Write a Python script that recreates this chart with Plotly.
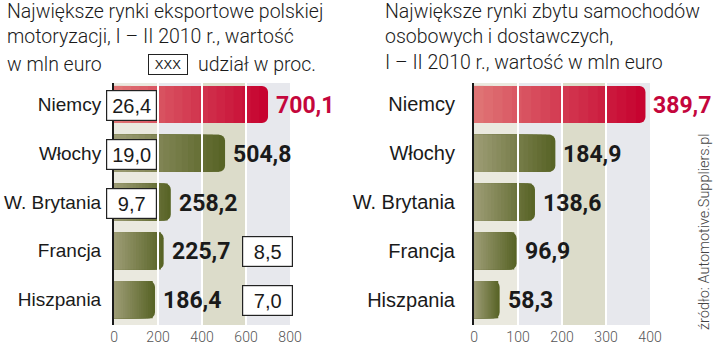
import plotly.graph_objects as go

# Data
categories = ["Niemcy", "Włochy", "W. Brytania", "Francja", "Hiszpania"]
export_values = [700.1, 504.8, 258.2, 225.7, 186.4]   # mln euro
export_share = [26.4, 19.0, 9.7, 8.5, 7.0]            # % share
sales_values = [389.7, 184.9, 138.6, 96.9, 58.3]      # mln euro
left_ticks = [0, 200, 400, 600, 800]
right_ticks = [0, 100, 200, 300, 400]

W, H = 720, 345
TXT = "#1a1a1a"
RED_TXT = "#c4063c"
LIGHT_FONT = dict(family="Roboto, Liberation Sans, sans-serif", weight=300)
BOLD_FAMILY = "Roboto, Liberation Sans, sans-serif"
LABEL_FAMILY = "Liberation Sans, sans-serif"

RED = ((224, 118, 118), (198, 0, 46))
GREEN = ((158, 157, 118), (86, 98, 36))
N_STEPS = 18


def fmt(v):
    return f"{v:.1f}".replace(".", ",")


def mix(c0, c1, t):
    return "rgb(%d,%d,%d)" % tuple(round(a + (b - a) * t) for a, b in zip(c0, c1))


fig = go.Figure()


def add_gradient_bars(values, xa, ya):
    # Overlaid bars of decreasing length give a left-to-right shading
    for k in range(N_STEPS):
        frac = (N_STEPS - k) / N_STEPS
        t = (N_STEPS - k - 0.5) / N_STEPS
        colors = [mix(*(RED if i == 0 else GREEN), t) for i in range(len(values))]
        fig.add_trace(go.Bar(
            x=[v * frac for v in values], y=categories, orientation="h",
            marker=dict(color=colors, line=dict(width=0),
                        cornerradius=6 if k == 0 else 0),
            width=0.76, xaxis=xa, yaxis=ya, hoverinfo="skip", showlegend=False,
        ))


add_gradient_bars(export_values, "x", "y")
add_gradient_bars(sales_values, "x2", "y2")

y_dom = [1 - 325 / H, 1 - 83 / H]
y_range = [4.52, -0.44]

axis_common = dict(showgrid=False, zeroline=False, ticks="", fixedrange=True,
                   automargin=False)
fig.update_layout(
    width=W, height=H, margin=dict(l=0, r=0, t=0, b=0), autosize=False,
    paper_bgcolor="white", plot_bgcolor="rgba(0,0,0,0)", barmode="overlay",
    xaxis=dict(domain=[114 / W, 290 / W], range=[0, 800], tickvals=left_ticks,
               tickfont=dict(size=14, color="#555", **LIGHT_FONT), anchor="y",
               ticklabelstandoff=2, **axis_common),
    yaxis=dict(domain=y_dom, range=y_range, type="category", categoryarray=categories,
               showline=True, linecolor=TXT, linewidth=2, layer="above traces",
               tickfont=dict(size=19, color=TXT, family=LABEL_FAMILY),
               ticklabelstandoff=7, anchor="x", **axis_common),
    xaxis2=dict(domain=[474 / W, 650 / W], range=[0, 400], tickvals=right_ticks,
                tickfont=dict(size=14, color="#555", **LIGHT_FONT), anchor="y2",
                ticklabelstandoff=2, **axis_common),
    yaxis2=dict(domain=y_dom, range=y_range, type="category", categoryarray=categories,
                showline=True, linecolor=TXT, linewidth=2, layer="above traces",
                tickfont=dict(size=20, color=TXT, family=LABEL_FAMILY),
                ticklabelstandoff=13, anchor="x2", **axis_common),
)

# Background bands and white grid lines over the bars
band_colors = ["#eae9df", "#e7e8ed", "#dcdcca", "#e7e8ed"]
shapes = []
for xref, ticks in (("x", left_ticks), ("x2", right_ticks)):
    for i in range(len(ticks) - 1):
        shapes.append(dict(type="rect", xref=xref, yref=xref.replace("x", "y") + " domain",
                           x0=ticks[i], x1=ticks[i + 1], y0=0, y1=1, layer="below",
                           fillcolor=band_colors[i], line=dict(width=0)))
    for tv in ticks[1:-1]:
        shapes.append(dict(type="line", xref=xref, yref=xref.replace("x", "y") + " domain",
                           x0=tv, x1=tv, y0=0, y1=1, layer="above",
                           line=dict(color="white", width=2)))
fig.update_layout(shapes=shapes)

ann = []
# Value labels
for xa, ya, vals in (("x", "y", export_values), ("x2", "y2", sales_values)):
    for i, (c, v) in enumerate(zip(categories, vals)):
        ann.append(dict(x=v, y=c, xref=xa, yref=ya, text=fmt(v), showarrow=False,
                        xanchor="left", yanchor="middle", xshift=6, yshift=-1,
                        font=dict(size=23, color=RED_TXT if i == 0 else TXT,
                                  family=BOLD_FAMILY, weight="bold")))

# Share boxes
for i, (c, s) in enumerate(zip(categories, export_share)):
    inside = i < 3
    ann.append(dict(x=0 if inside else 582, y=c, xref="x", yref="y", text=fmt(s),
                    showarrow=False, xanchor="left", yanchor="middle",
                    xshift=-8 if inside else 0, yshift=-1,
                    width=47, height=27, borderpad=1, borderwidth=1.2,
                    bordercolor="#222", bgcolor="white",
                    font=dict(size=20, color=TXT, family=LABEL_FAMILY)))

# Titles
title_font = dict(size=19.5, color=TXT, **LIGHT_FONT)
ann.append(dict(x=5 / W, y=1, xref="paper", yref="paper", xanchor="left", yanchor="top",
                text="Największe rynki eksportowe polskiej<br>motoryzacji, I – II 2010 r., wartość",
                align="left", showarrow=False, font=title_font, yshift=2))
ann.append(dict(x=5 / W, y=1 - 64 / H, xref="paper", yref="paper", xanchor="left",
                yanchor="middle", text="w mln euro", showarrow=False, font=title_font))
ann.append(dict(x=148 / W, y=1 - 64 / H, xref="paper", yref="paper", xanchor="left",
                yanchor="middle", text="XXX", showarrow=False, width=36, height=17,
                borderpad=1, borderwidth=1, bordercolor="#222", bgcolor="white",
                font=dict(size=13, color=TXT, family="Liberation Sans Narrow, sans-serif")))
ann.append(dict(x=196 / W, y=1 - 64 / H, xref="paper", yref="paper", xanchor="left",
                yanchor="middle", text="udział w proc.", showarrow=False, font=title_font))
ann.append(dict(x=383 / W, y=1, xref="paper", yref="paper", xanchor="left", yanchor="top",
                text="Największe rynki zbytu samochodów<br>osobowych i dostawczych,<br>"
                     "I – II 2010 r., wartość w mln euro",
                align="left", showarrow=False, font=title_font, yshift=2))

# Source
ann.append(dict(x=705 / W, y=1 - 222 / H, xref="paper", yref="paper", xanchor="center",
                yanchor="middle", text="źródło: Automotive.Suppliers.pl", textangle=-90,
                showarrow=False, yshift=-10,
                font=dict(size=14.5, color="#444", **LIGHT_FONT)))

fig.update_layout(annotations=ann)
fig.write_html("out.html")
